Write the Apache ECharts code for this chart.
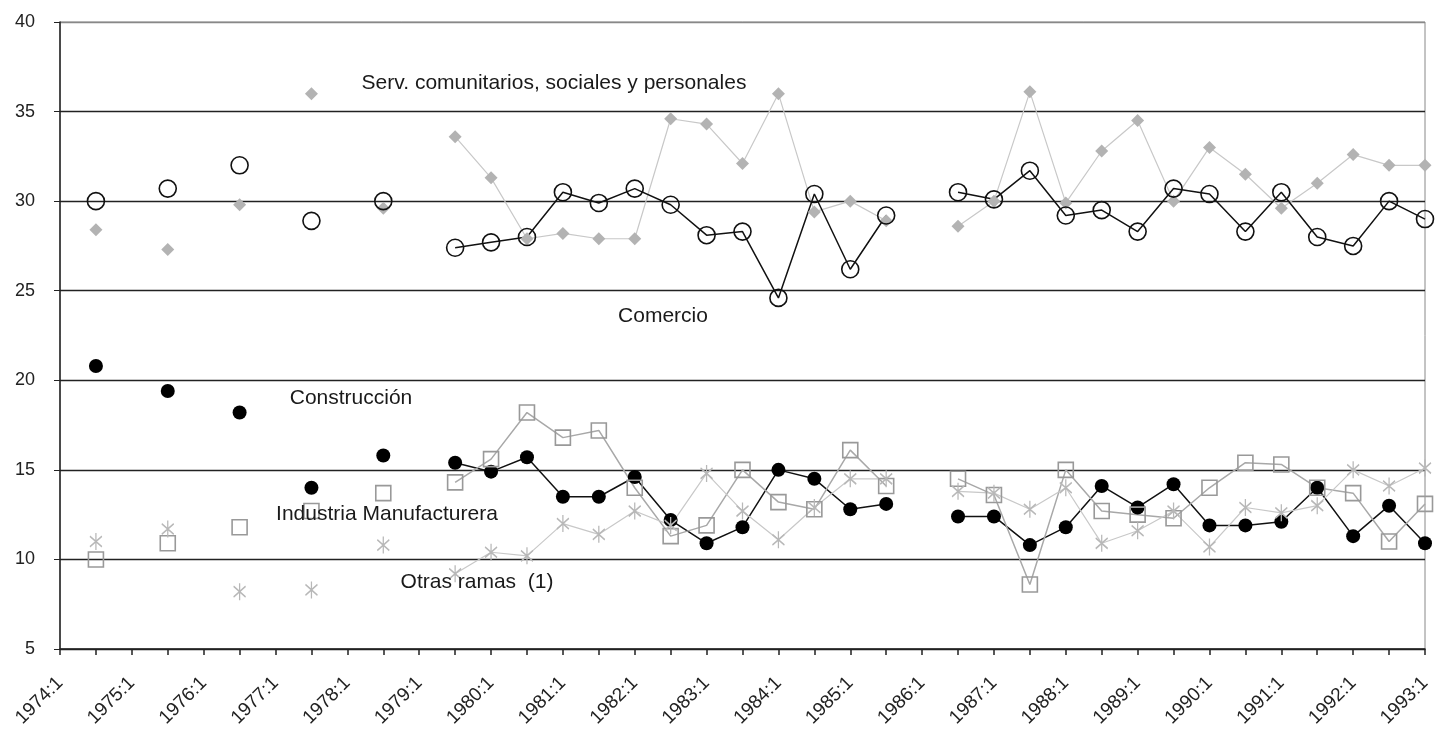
<!DOCTYPE html>
<html>
<head>
<meta charset="utf-8">
<script src="https://cdn.jsdelivr.net/npm/echarts@6/dist/echarts.min.js"></script>
<style>
html,body{margin:0;padding:0;background:#fff;}
#chart{width:1435px;height:731px;}
</style>
</head>
<body>
<div id="chart"></div>
<script>
const categories = [
  '1974:1','1974:2','1975:1','1975:2','1976:1','1976:2','1977:1','1977:2','1978:1','1978:2',
  '1979:1','1979:2','1980:1','1980:2','1981:1','1981:2','1982:1','1982:2','1983:1','1983:2',
  '1984:1','1984:2','1985:1','1985:2','1986:1','1986:2','1987:1','1987:2','1988:1','1988:2',
  '1989:1','1989:2','1990:1','1990:2','1991:1','1991:2','1992:1','1992:2','1993:1'
];
const yTicks = [5, 10, 15, 20, 25, 30, 35, 40];

const servicios = [null,28.4,null,27.3,null,29.8,null,36.0,null,29.6,null,
  33.6,31.3,27.9,28.2,27.9,27.9,34.6,34.3,32.1,36.0,29.4,30.0,28.9,
  null,
  28.6,30.0,36.1,29.9,32.8,34.5,30.0,33.0,31.5,29.6,31.0,32.6,32.0,32.0];
const comercio = [null,30.0,null,30.7,null,32.0,null,28.9,null,30.0,null,
  27.4,27.7,28.0,30.5,29.9,30.7,29.8,28.1,28.3,24.6,30.4,26.2,29.2,
  null,
  30.5,30.1,31.7,29.2,29.5,28.3,30.7,30.4,28.3,30.5,28.0,27.5,30.0,29.0];
const construccion = [null,20.8,null,19.4,null,18.2,null,14.0,null,15.8,null,
  15.4,14.9,15.7,13.5,13.5,14.6,12.2,10.9,11.8,15.0,14.5,12.8,13.1,
  null,
  12.4,12.4,10.8,11.8,14.1,12.9,14.2,11.9,11.9,12.1,14.0,11.3,13.0,10.9];
const industria = [null,10.0,null,10.9,null,11.8,null,12.7,null,13.7,null,
  14.3,15.6,18.2,16.8,17.2,14.0,11.3,11.9,15.0,13.2,12.8,16.1,14.1,
  null,
  14.5,13.6,8.6,15.0,12.7,12.5,12.3,14.0,15.4,15.3,14.0,13.7,11.0,13.1];
const otras = [null,11.0,null,11.7,null,8.2,null,8.3,null,10.8,null,
  9.2,10.4,10.2,12.0,11.4,12.7,11.9,14.8,12.7,11.1,12.9,14.5,14.5,
  null,
  13.8,13.7,12.8,14.0,10.9,11.6,12.7,10.7,12.9,12.6,13.0,15.0,14.1,15.1];

const labels = [
  {text:'Serv. comunitarios, sociales y personales', x:554, y:83},
  {text:'Comercio', x:663, y:316},
  {text:'Construcción', x:351, y:398},
  {text:'Industria Manufacturera', x:387, y:514},
  {text:'Otras ramas  (1)', x:477, y:582}
];

const FONT = '"Liberation Sans", Arial, sans-serif';
const asterisk = 'path://M0,-8L0,8M-5.5,-5L5.5,5M-5.5,5L5.5,-5';

const chart = echarts.init(document.getElementById('chart'), null, {renderer:'canvas'});
chart.setOption({
  animation:false,
  backgroundColor:'#fff',
  grid:{left:60, right:10, top:22, bottom:82, show:true, borderColor:'#888', borderWidth:1},
  xAxis:{
    type:'category', data:categories, boundaryGap:false,
    axisLine:{lineStyle:{color:'#222', width:1.5}},
    axisTick:{interval:0, length:6, lineStyle:{color:'#222', width:1.5}},
    axisLabel:{interval:1, rotate:45, fontFamily:FONT, fontSize:19, color:'#222', margin:31, hideOverlap:false, showMaxLabel:true},
    splitLine:{show:false}
  },
  yAxis:{
    type:'value', min:yTicks[0], max:yTicks[yTicks.length-1], interval:5,
    axisLine:{show:true, lineStyle:{color:'#222', width:1.5}},
    axisTick:{show:true, length:6, lineStyle:{color:'#222'}},
    axisLabel:{fontFamily:FONT, fontSize:18, color:'#222', margin:25},
    splitLine:{show:true, lineStyle:{color:['#222','#222','#222','#222','#222','#222','#222','#888'], width:1.3}}
  },
  series:[
    {name:'Serv. comunitarios, sociales y personales', type:'line', data:servicios,
     symbol:'diamond', symbolSize:13, connectNulls:false,
     lineStyle:{color:'#c8c8c8', width:1.2}, itemStyle:{color:'#b3b3b3'}},
    {name:'Comercio', type:'line', data:comercio,
     symbol:'circle', symbolSize:17, connectNulls:false,
     lineStyle:{color:'#111', width:1.5},
     itemStyle:{color:'rgba(0,0,0,0)', borderColor:'#111', borderWidth:1.6}},
    {name:'Construcción', type:'line', data:construccion,
     symbol:'circle', symbolSize:14, connectNulls:false,
     lineStyle:{color:'#111', width:1.5}, itemStyle:{color:'#000'}},
    {name:'Industria Manufacturera', type:'line', data:industria,
     symbol:'rect', symbolSize:15, connectNulls:false,
     lineStyle:{color:'#a8a8a8', width:1.5},
     itemStyle:{color:'rgba(0,0,0,0)', borderColor:'#999', borderWidth:1.6}},
    {name:'Otras ramas (1)', type:'line', data:otras,
     symbol:asterisk, symbolSize:[12,17], connectNulls:false,
     lineStyle:{color:'#c8c8c8', width:1.2},
     itemStyle:{color:'rgba(0,0,0,0)', borderColor:'#b8b8b8', borderWidth:1.5}}
  ],
  graphic: labels.map(l => ({
    type:'text', x:l.x, y:l.y, z:100,
    style:{text:l.text, fill:'#1a1a1a', font:'21px ' + FONT, textAlign:'center', textVerticalAlign:'middle'}
  }))
});
</script>
</body>
</html>
